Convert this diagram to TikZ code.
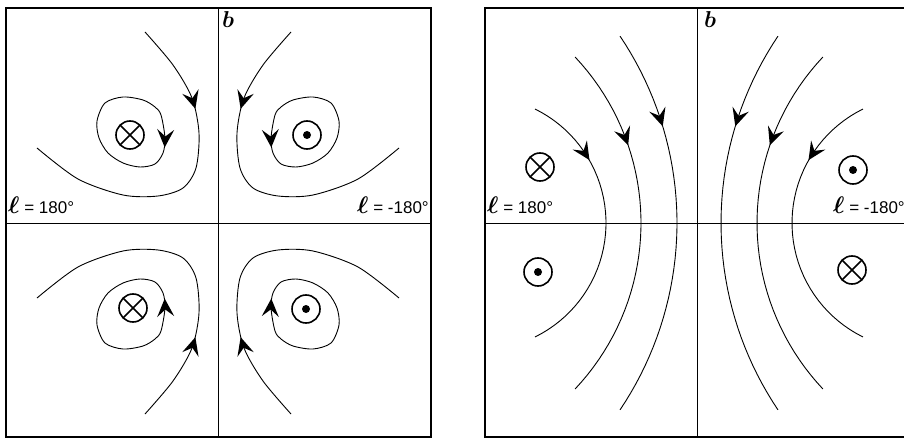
\RequirePackage{fix-cm}
\documentclass[tikz,border=0pt]{standalone}
\usepackage{amsmath, amssymb}
\usepackage{fontspec}
\setmainfont{Liberation Sans}
\usepackage{tikz}
\usetikzlibrary{decorations.markings}

\tikzset{
  flowarrow/.style={postaction={decorate}, decoration={markings,
      mark=at position #1 with {\fill (5pt,0pt) -- (-13pt,8.5pt) -- (-6pt,0pt) -- (-13pt,-8.5pt) -- cycle;}}},
  fieldline/.style={line width=0.9pt},
  intopage/.style={circle, draw, line width=1.6pt, minimum size=28pt, inner sep=0pt,
      path picture={\draw[line width=1.6pt] (path picture bounding box.north west) -- (path picture bounding box.south east)
        (path picture bounding box.north east) -- (path picture bounding box.south west);}},
  outofpage/.style={circle, draw, line width=1.6pt, minimum size=28pt, inner sep=0pt,
      path picture={\fill (path picture bounding box.center) circle (4pt);}},
  lonlabel/.style={font=\fontsize{17}{19}\selectfont, inner sep=0pt},
}
\newcommand{\lonlab}[1]{{\fontsize{24}{26}\selectfont$\boldsymbol{\ell}$} = #1}

\begin{document}
\begin{tikzpicture}[x=1pt, y=-1pt]
  \clip (0,0) rectangle (904,438);
  % frames and axes
  \draw[line width=1.2pt] (6,8) rectangle (431,437);
  \draw[line width=1.2pt] (485,8) rectangle (912,437);
  \draw[line width=0.9pt] (218,8) -- (218,437) (6,223) -- (431,223);
  \draw[line width=0.9pt] (697,8) -- (697,437) (485,223) -- (912,223);

  % left panel: hook and loop, mirrored into each quadrant
  \foreach \sx/\sy in {1/1, -1/1, 1/-1, -1/-1} {
    \begin{scope}[shift={(218,223)}, xscale=\sx, yscale=\sy]
      \draw[fieldline, flowarrow=0.26] plot[smooth] coordinates {(-73,-191) (-45,-158) (-26,-125) (-19,-90) (-22,-55) (-35,-35) (-60,-27) (-95,-28) (-140,-44) (-181,-75)};
      \draw[fieldline, flowarrow=0.02] plot[smooth cycle] coordinates {(-57,-108) (-53,-85) (-55,-70) (-63,-59) (-78,-56) (-95,-60) (-110,-70) (-119,-85) (-121,-102) (-113,-120) (-95,-126) (-75,-123) (-63,-116)};
    \end{scope}
  }
  \node[intopage] (inTL) at (130,135) {};
  \node[outofpage] (outTR) at (307,135) {};
  \node[intopage] (inBL) at (133,308) {};
  \node[outofpage] (outBR) at (306,309) {};

  % right panel: arcs bending away from the axis
  \foreach \sx in {1,-1} {
    \begin{scope}[shift={(699,223)}, xscale=\sx]
      \draw[fieldline, flowarrow=0.25] plot[domain=-63.8:63.8, samples=40] ({-220+127*cos(\x)}, {127*sin(\x)});
      \draw[fieldline, flowarrow=0.27] plot[domain=-43.3:43.3, samples=40] ({-300+242*cos(\x)}, {242*sin(\x)});
      \draw[fieldline, flowarrow=0.24] plot[domain=-33.9:33.9, samples=40] ({-357+335*cos(\x)}, {335*sin(\x)});
    \end{scope}
  }
  \node[intopage] (inUL) at (540,167) {};
  \node[outofpage] (outLL) at (538,272) {};
  \node[outofpage] (outUR) at (853,170) {};
  \node[intopage] (inLR) at (852,270) {};

  % labels
  \node[lonlabel, anchor=base west] (lonA) at (8,214) {\lonlab{180°}};
  \node[lonlabel, anchor=base east] (lonB) at (429,214) {\lonlab{-180°}};
  \node[lonlabel, anchor=base west] (lonC) at (487,214) {\lonlab{180°}};
  \node[lonlabel, anchor=base west] (lonD) at (833,214) {\lonlab{-180°}};
  \node[lonlabel, anchor=north west, font=\fontsize{23}{24}\selectfont] (latA) at (222,11) {$\boldsymbol{b}$};
  \node[lonlabel, anchor=north west, font=\fontsize{23}{24}\selectfont] (latB) at (704,11) {$\boldsymbol{b}$};
\end{tikzpicture}
\end{document}
